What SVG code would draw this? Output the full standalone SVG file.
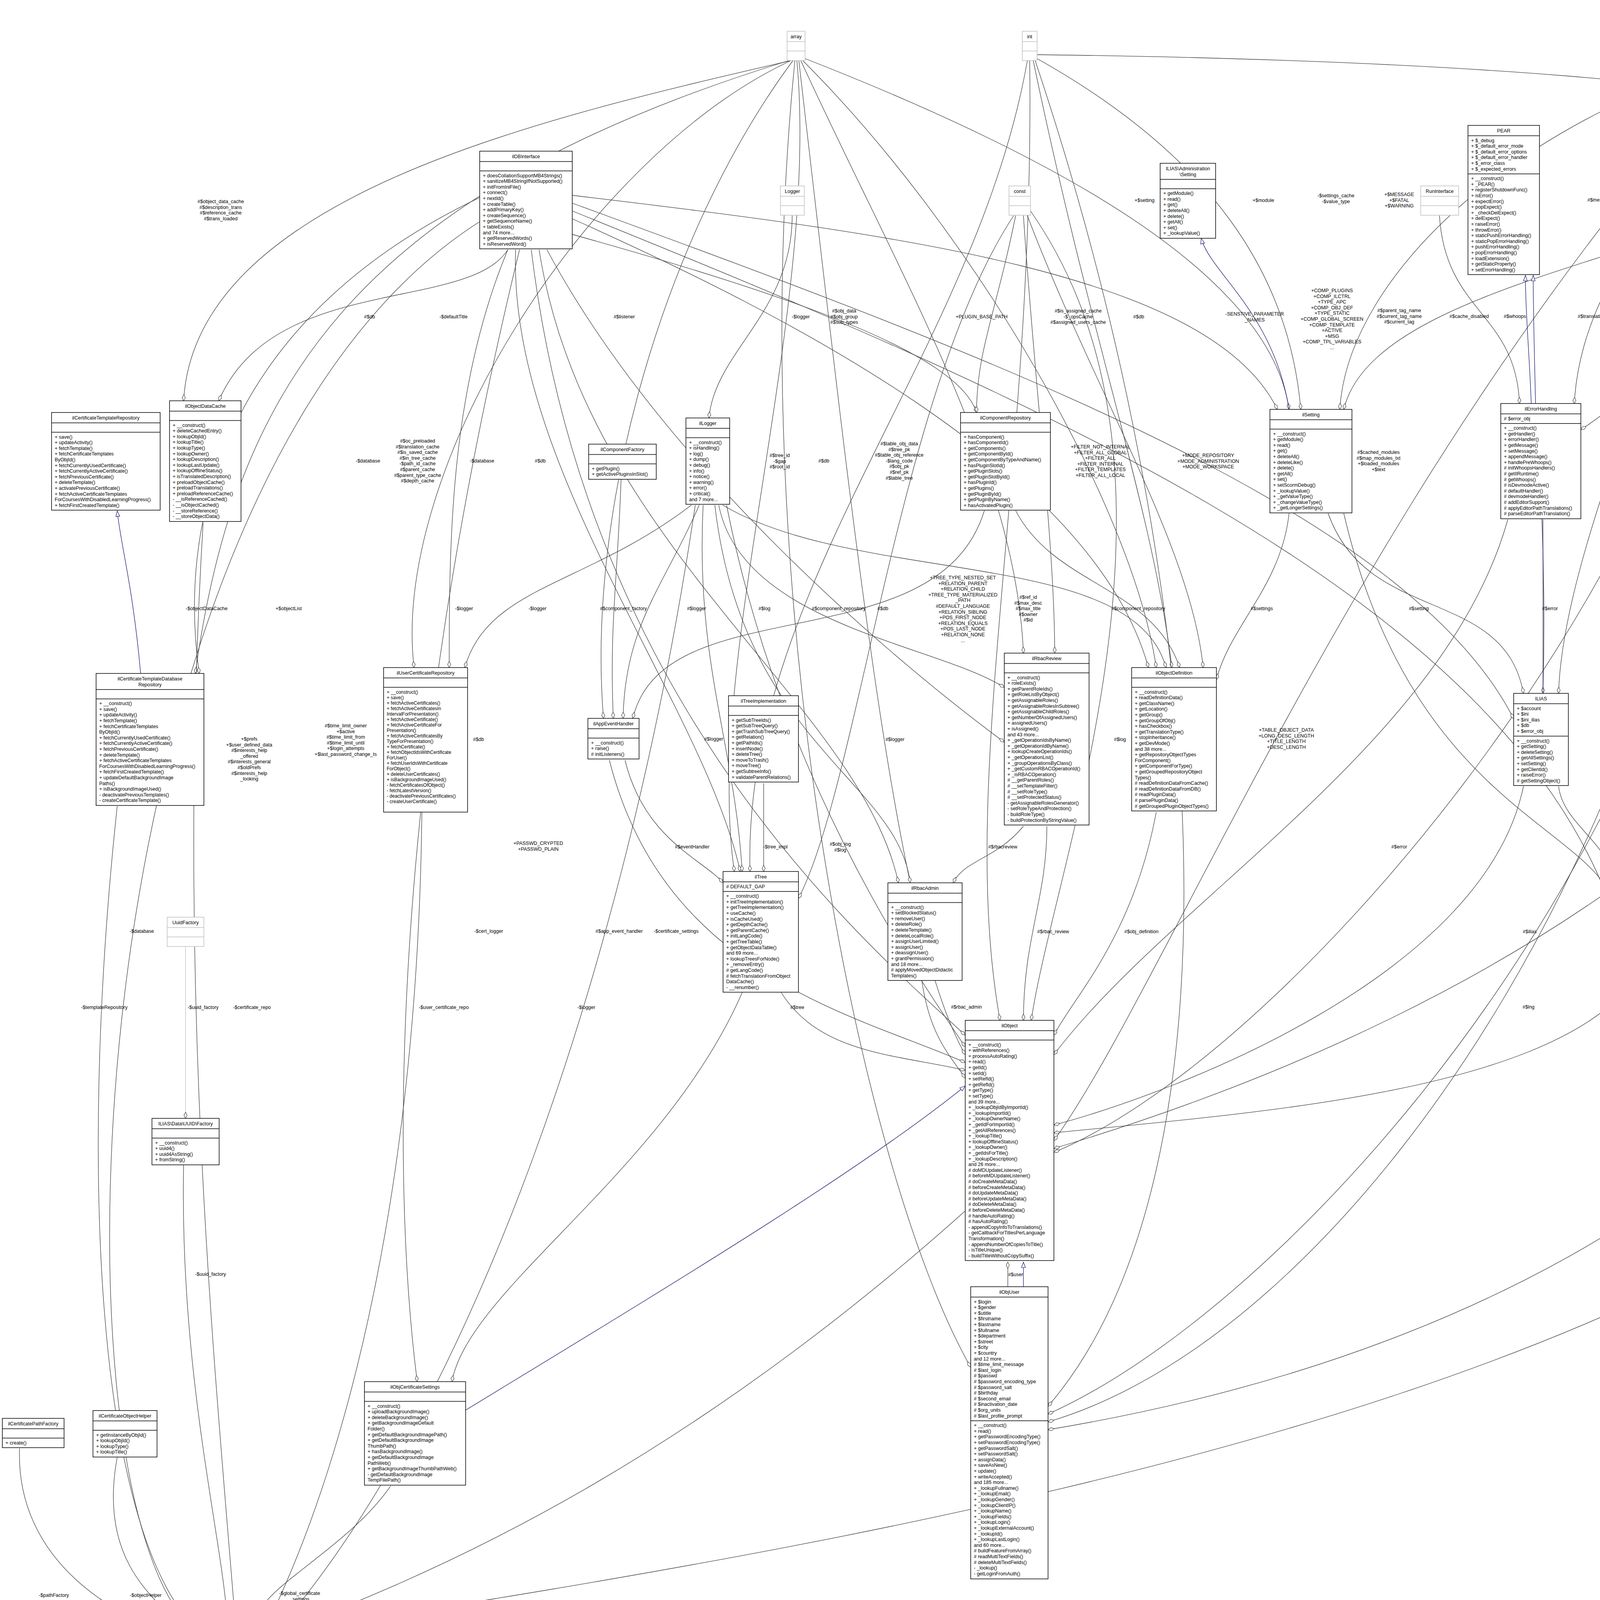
<svg xmlns="http://www.w3.org/2000/svg" width="6611" height="4251" viewBox="0 0 6611 4251">
<style>
.n rect{fill:#fff;stroke:#000;stroke-width:1.5}
.n line{stroke:#000;stroke-width:1.5}
.g rect{fill:#fff;stroke:#bfbfbf;stroke-width:1.5}
.g line{stroke:#bfbfbf;stroke-width:1.5}
.n text,.g text{font-family:"Liberation Sans",Arial,sans-serif;font-size:12.5px;fill:#000}
.t{text-anchor:middle}
.e{fill:none;stroke:#404040;stroke-width:1.3}
.eg{fill:none;stroke:#bfbfbf;stroke-width:1.3}
.i{fill:none;stroke:#191970;stroke-width:1.3}
.id{fill:none;stroke:#191970;stroke-width:1.3;stroke-dasharray:8,5}
.l{font-family:"Liberation Sans",Arial,sans-serif;font-size:12.5px;fill:#000;text-anchor:middle}
</style>
<defs>
<marker id="d" viewBox="0 0 18 10" refX="17" refY="5" markerWidth="18" markerHeight="10" orient="auto" markerUnits="userSpaceOnUse"><path d="M1,5 L9,1 L17,5 L9,9 Z" fill="#fff" stroke="#404040" stroke-width="1.2"/></marker>
<marker id="t" viewBox="0 0 16 12" refX="15" refY="6" markerWidth="16" markerHeight="12" orient="auto" markerUnits="userSpaceOnUse"><path d="M1,1 L15,6 L1,11 Z" fill="#fff" stroke="#191970" stroke-width="1.2"/></marker>
</defs>
<rect width="6611" height="4251" fill="#fff"/>
<g id="connectors">
<g marker-end="url(#d)">
<path class="e" d="M2025,155 C1400,300 500,500 470,1026"/>
<path class="e" d="M1300,639 C1200,800 700,700 560,1026"/>
<path class="e" d="M2020,155 C900,500 600,1000 500,1724"/>
<path class="e" d="M2025,155 C1500,400 1000,1200 1060,1709"/>
<path class="e" d="M2030,155 C1700,600 1500,1300 1545,1839"/>
<path class="e" d="M2040,155 C2100,800 1800,1700 1880,2231"/>
<path class="e" d="M2050,155 C2300,700 2600,1200 2620,1672"/>
<path class="e" d="M2055,155 C2500,600 2900,1300 2960,1709"/>
<path class="e" d="M2061,150 C2700,400 3250,700 3300,1048"/>
<path class="e" d="M2045,155 C2200,1500 2300,2400 2471,2700"/>
<path class="e" d="M2035,155 C1900,1500 2200,3000 2485,3500"/>
<path class="e" d="M2630,155 C2500,900 1900,1500 1920,2231"/>
<path class="e" d="M2636,155 C2650,1200 2450,2000 2560,2612"/>
<path class="e" d="M2655,140 C3500,150 4700,200 4840,366"/>
<path class="e" d="M2655,150 C3100,400 3300,700 3330,1048"/>
<path class="e" d="M2645,155 C2800,900 2950,1300 3000,1709"/>
<path class="e" d="M2650,155 C3100,1500 3200,3000 2683,3600"/>
<path class="e" d="M4455,155 C3500,1200 3000,2500 2698,2920"/>
<path class="e" d="M4460,155 C4300,500 4050,700 4030,1033"/>
<path class="e" d="M4465,155 C4300,800 4000,1400 3990,1775"/>
<path class="e" d="M4470,155 C4400,1000 4200,1800 4210,2223"/>
<path class="e" d="M4500,130 C4650,180 4850,250 4860,366"/>
<path class="e" d="M4495,150 C4700,400 4740,700 4740,916"/>
<path class="e" d="M4485,155 C4600,800 4620,1400 4620,1761"/>
<path class="e" d="M4451,150 C3900,300 3450,700 3430,1048"/>
<path class="e" d="M4475,155 C4700,1800 3400,3300 2683,3620"/>
<path class="e" d="M4480,155 C5300,900 5600,2000 5481,2150 C5000,3500 2500,3900 721,4180"/>
<path class="e" d="M5212,150 C5100,250 5000,350 4961,420"/>
<path class="e" d="M5230,155 C5150,500 5000,800 4899,930"/>
<path class="e" d="M5250,155 C5400,1200 4800,2200 4290,2380"/>
<path class="e" d="M5255,155 C5300,2000 3500,2700 2698,2940"/>
<path class="e" d="M5266,140 C5600,1000 5450,3200 2683,3660"/>
<path class="e" d="M4440,552 C4400,800 4200,1000 4047,1100"/>
<path class="e" d="M4450,552 C4500,800 4650,900 4691,980"/>
<path class="e" d="M4445,552 C4440,1200 4280,1800 4260,2223"/>
<path class="e" d="M4455,552 C4600,900 4650,1400 4650,1761"/>
<path class="e" d="M4438,552 C4300,1500 3300,2700 2698,2950"/>
<path class="e" d="M4425,552 C4000,700 3500,800 3440,1048"/>
<path class="e" d="M4443,552 C4400,2000 3500,3400 2683,3640"/>
<path class="e" d="M1320,639 C1300,1200 1800,1800 1895,2231"/>
<path class="e" d="M1400,639 C1700,1200 2300,1700 2571,1900"/>
<path class="e" d="M1465,560 C2000,800 2800,1200 2940,1709"/>
<path class="e" d="M1465,500 C2300,600 3100,700 3270,1048"/>
<path class="e" d="M1465,520 C2500,900 3600,1300 3875,1840"/>
<path class="e" d="M1380,639 C1500,1400 2200,1800 2300,2260"/>
<path class="e" d="M1465,540 C2600,1000 3800,1500 4112,2290"/>
<path class="e" d="M1240,500 C600,800 450,1300 510,1724"/>
<path class="e" d="M1300,639 C1150,1000 1150,1400 1150,1709"/>
<path class="e" d="M1360,639 C1500,1800 2200,2400 2471,2650"/>
<path class="e" d="M1240,560 C200,1200 100,3800 493,4170"/>
<path class="e" d="M1330,639 C1000,2000 1000,3000 1068,3537"/>
<path class="e" d="M1465,600 C2000,750 2450,900 2500,1056"/>
<path class="e" d="M2028,552 C2028,800 1830,900 1815,1070"/>
<path class="e" d="M1800,1293 C1780,1700 1880,1900 1900,2231"/>
<path class="e" d="M1840,1293 C1900,1600 2400,1650 2571,1760"/>
<path class="e" d="M1850,1293 C2200,1500 2900,1400 2985,1709"/>
<path class="e" d="M1790,1293 C1700,1500 1600,1600 1595,1839"/>
<path class="e" d="M1830,1293 C1900,1900 2300,2000 2330,2260"/>
<path class="e" d="M1770,1293 C1500,1500 1250,1500 1190,1709"/>
<path class="e" d="M1780,1293 C1600,2500 1200,3600 721,4160"/>
<path class="e" d="M1860,1293 C2000,2000 2350,2500 2471,2680"/>
<path class="e" d="M2600,552 C2550,800 2500,900 2500,1056"/>
<path class="e" d="M2595,552 C2300,1000 2200,2000 2044,2300"/>
<path class="e" d="M2620,552 C2650,1000 2700,1400 2700,1672"/>
<path class="e" d="M2630,552 C2800,1000 3050,1400 3080,1709"/>
<path class="e" d="M2638,540 C3100,1200 2700,2200 2640,2612"/>
<path class="e" d="M2600,1307 C2700,1500 2950,1500 3020,1709"/>
<path class="e" d="M2520,1307 C2400,1700 1700,1500 1620,1839"/>
<path class="e" d="M1590,1227 C1580,1500 1560,1600 1570,1839"/>
<path class="e" d="M3300,1314 C3280,1500 3150,1600 3114,1740"/>
<path class="e" d="M3400,1314 C3500,1600 3850,1500 3900,1775"/>
<path class="e" d="M3440,1314 C3600,2000 4000,2100 4112,2270"/>
<path class="e" d="M3685,552 C3700,800 3880,800 3890,1033"/>
<path class="e" d="M3950,1330 C3950,1500 3950,1600 3950,1775"/>
<path class="e" d="M3860,1330 C3700,1900 3000,2300 2698,2700"/>
<path class="e" d="M3990,2013 C4000,2100 4100,2150 4120,2223"/>
<path class="e" d="M3900,2013 C3800,2500 3000,2800 2698,2880"/>
<path class="e" d="M4870,661 C4860,800 4840,850 4830,916"/>
<path class="e" d="M4740,1446 C4720,1600 4680,1650 4670,1761"/>
<path class="e" d="M4640,2026 C4600,2200 4400,2250 4290,2300"/>
<path class="e" d="M4150,2548 C3900,2800 3200,2850 2698,2900"/>
<path class="e" d="M1955,2005 L1955,2231"/>
<path class="e" d="M1600,1946 C1650,2150 1800,2200 1851,2260"/>
<path class="e" d="M1560,1946 C1700,2500 2200,2600 2471,2720"/>
<path class="e" d="M2000,2541 C2100,2700 2300,2700 2471,2740"/>
<path class="e" d="M2620,2115 C2550,2200 2470,2200 2440,2260"/>
<path class="e" d="M2680,2115 C2680,2300 2620,2400 2620,2612"/>
<path class="e" d="M2360,2511 C2380,2650 2430,2700 2471,2760"/>
<path class="e" d="M2960,2079 C2900,2400 2750,2550 2698,2650"/>
<path class="e" d="M2580,3294 L2580,3231"/>
<path class="e" d="M1000,3804 C900,3950 700,4050 665,4124"/>
<path class="e" d="M50,3708 C40,4000 300,4150 493,4200"/>
<path class="e" d="M300,3731 C250,4000 400,4100 493,4185"/>
<path class="e" d="M300,2064 C200,3000 250,3900 493,4160"/>
<path class="eg" d="M475,2423 L475,2863"/>
<path class="e" d="M470,2982 C460,3500 560,3900 580,4124"/>
<path class="e" d="M1080,2078 C1070,3000 900,3700 700,4124"/>
<path class="e" d="M520,1338 C450,2500 550,3500 600,4124"/>
<path class="e" d="M5760,3709 C5600,4000 5000,4100 4400,4120 C3000,4170 1500,4180 721,4190"/>
<path class="e" d="M2471,3100 C1800,3700 1200,4000 721,4175"/>
<path class="e" d="M1900,2541 C1700,3000 1200,3300 1157,3537"/>
</g>
<g marker-end="url(#t)">
<path class="i" d="M3300,1048 C3260,800 3100,700 3075,610"/>
<path class="i" d="M3920,1033 C3915,900 3905,800 3905,705"/>
<path class="i" d="M3950,1775 C3960,1400 3935,1100 3931,1033 C3928,900 3925,800 3925,705"/>
<path class="id" d="M4945,366 C4980,300 5000,250 5012,226"/>
<path class="i" d="M2620,3294 L2620,3231"/>
<path class="i" d="M1192,3610 C1700,3300 2200,3000 2471,2780"/>
<path class="i" d="M360,1724 C340,1500 310,1400 300,1308"/>
<path class="id" d="M5700,2877 C5640,2700 5580,2550 5540,2432"/>
<path class="i" d="M5722,2877 L5722,2446"/>
<path class="i" d="M5920,2877 L5920,2476"/>
<path class="id" d="M5940,2877 C6000,2700 6080,2550 6120,2476"/>
<path class="i" d="M6318,2877 L6318,2439"/>
<path class="id" d="M6335,2877 C6400,2700 6480,2550 6518,2446"/>
<path class="id" d="M5770,3631 C5760,3400 5730,3100 5725,2966"/>
<path class="id" d="M5790,3631 C5810,3400 5890,3100 5910,2966"/>
<path class="i" d="M5810,3631 C6000,3400 6250,3100 6280,2966"/>
</g>
</g>
<g id="labels">
<text class="l" x="565" y="520"><tspan x="565" dy="0">#$object_data_cache</tspan><tspan x="565" dy="14.6">#$description_trans</tspan><tspan x="565" dy="14.6">#$reference_cache</tspan><tspan x="565" dy="14.6">#$trans_loaded</tspan></text>
<text class="l" x="946" y="815">#$db</text>
<text class="l" x="1161" y="815">-$defaultTitle</text>
<text class="l" x="1598" y="815">#$listener</text>
<text class="l" x="942" y="1184">-$database</text>
<text class="l" x="1069" y="1133"><tspan x="1069" dy="0">#$oc_preloaded</tspan><tspan x="1069" dy="14.6">#$translation_cache</tspan><tspan x="1069" dy="14.6">#$is_saved_cache</tspan><tspan x="1069" dy="14.6">#$in_tree_cache</tspan><tspan x="1069" dy="14.6">-$path_id_cache</tspan><tspan x="1069" dy="14.6">#$parent_cache</tspan><tspan x="1069" dy="14.6">#$parent_type_cache</tspan><tspan x="1069" dy="14.6">#$depth_cache</tspan></text>
<text class="l" x="1234" y="1184">-$database</text>
<text class="l" x="1383" y="1184">#$db</text>
<text class="l" x="529" y="1562">-$objectDataCache</text>
<text class="l" x="739" y="1562">+$objectList</text>
<text class="l" x="1188" y="1562">-$logger</text>
<text class="l" x="1376" y="1562">-$logger</text>
<text class="l" x="1596" y="1562">#$component_factory</text>
<text class="l" x="2050" y="815">-$logger</text>
<text class="l" x="2161" y="800"><tspan x="2161" dy="0">#$obj_data</tspan><tspan x="2161" dy="14.6">#$obj_group</tspan><tspan x="2161" dy="14.6">#$sub_types</tspan></text>
<text class="l" x="2513" y="815">+PLUGIN_BASE_PATH</text>
<text class="l" x="2760" y="800"><tspan x="2760" dy="0">#$is_assigned_cache</tspan><tspan x="2760" dy="14.6">-$_opsCache</tspan><tspan x="2760" dy="14.6">#$assigned_users_cache</tspan></text>
<text class="l" x="2915" y="815">#$db</text>
<text class="l" x="3212" y="808"><tspan x="3212" dy="0">-SENSTIVE_PARAMETER</tspan><tspan x="3212" dy="14.6">_NAMES</tspan></text>
<text class="l" x="2930" y="517">+$setting</text>
<text class="l" x="3234" y="517">+$module</text>
<text class="l" x="3420" y="505"><tspan x="3420" dy="0">-$settings_cache</tspan><tspan x="3420" dy="14.6">-$value_type</tspan></text>
<text class="l" x="3410" y="748"><tspan x="3410" dy="0">+COMP_PLUGINS</tspan><tspan x="3410" dy="14.6">+COMP_ILCTRL</tspan><tspan x="3410" dy="14.6">+TYPE_APC</tspan><tspan x="3410" dy="14.6">+COMP_OBJ_DEF</tspan><tspan x="3410" dy="14.6">+TYPE_STATIC</tspan><tspan x="3410" dy="14.6">+COMP_GLOBAL_SCREEN</tspan><tspan x="3410" dy="14.6">+COMP_TEMPLATE</tspan><tspan x="3410" dy="14.6">+ACTIVE</tspan><tspan x="3410" dy="14.6">+MSG</tspan><tspan x="3410" dy="14.6">+COMP_TPL_VARIABLES</tspan><tspan x="3410" dy="14.6">...</tspan></text>
<text class="l" x="1996" y="1170"><tspan x="1996" dy="0">#$tree_id</tspan><tspan x="1996" dy="14.6">-$gap</tspan><tspan x="1996" dy="14.6">#$root_id</tspan></text>
<text class="l" x="2109" y="1184">#$db</text>
<text class="l" x="2302" y="1140"><tspan x="2302" dy="0">#$table_obj_data</tspan><tspan x="2302" dy="14.6">#$tree_pk</tspan><tspan x="2302" dy="14.6">#$table_obj_reference</tspan><tspan x="2302" dy="14.6">-$lang_code</tspan><tspan x="2302" dy="14.6">#$obj_pk</tspan><tspan x="2302" dy="14.6">#$ref_pk</tspan><tspan x="2302" dy="14.6">#$table_tree</tspan></text>
<text class="l" x="2817" y="1148"><tspan x="2817" dy="0">+FILTER_NOT_INTERNAL</tspan><tspan x="2817" dy="14.6">+FILTER_ALL_GLOBAL</tspan><tspan x="2817" dy="14.6">+FILTER_ALL</tspan><tspan x="2817" dy="14.6">+FILTER_INTERNAL</tspan><tspan x="2817" dy="14.6">+FILTER_TEMPLATES</tspan><tspan x="2817" dy="14.6">+FILTER_ALL_LOCAL</tspan></text>
<text class="l" x="3093" y="1170"><tspan x="3093" dy="0">+MODE_REPOSITORY</tspan><tspan x="3093" dy="14.6">+MODE_ADMINISTRATION</tspan><tspan x="3093" dy="14.6">+MODE_WORKSPACE</tspan></text>
<text class="l" x="1783" y="1562">#$logger</text>
<text class="l" x="1957" y="1562">#$log</text>
<text class="l" x="2147" y="1562">#$component_repository</text>
<text class="l" x="2260" y="1562">#$db</text>
<text class="l" x="2465" y="1483"><tspan x="2465" dy="0">+TREE_TYPE_NESTED_SET</tspan><tspan x="2465" dy="14.6">+RELATION_PARENT</tspan><tspan x="2465" dy="14.6">+RELATION_CHILD</tspan><tspan x="2465" dy="14.6">+TREE_TYPE_MATERIALIZED</tspan><tspan x="2465" dy="14.6">_PATH</tspan><tspan x="2465" dy="14.6">#DEFAULT_LANGUAGE</tspan><tspan x="2465" dy="14.6">+RELATION_SIBLING</tspan><tspan x="2465" dy="14.6">+POS_FIRST_NODE</tspan><tspan x="2465" dy="14.6">+RELATION_EQUALS</tspan><tspan x="2465" dy="14.6">+POS_LAST_NODE</tspan><tspan x="2465" dy="14.6">+RELATION_NONE</tspan><tspan x="2465" dy="14.6">...</tspan></text>
<text class="l" x="2632" y="1533"><tspan x="2632" dy="0">#$ref_id</tspan><tspan x="2632" dy="14.6">#$max_desc</tspan><tspan x="2632" dy="14.6">#$max_title</tspan><tspan x="2632" dy="14.6">#$owner</tspan><tspan x="2632" dy="14.6">#$id</tspan></text>
<text class="l" x="2914" y="1562">#$component_repository</text>
<text class="l" x="3230" y="1562">#$settings</text>
<text class="l" x="3632" y="1562">#$setting</text>
<text class="l" x="3968" y="1562">#$error</text>
<text class="l" x="4219" y="1562">#$use_cache</text>
<text class="l" x="4367" y="1562">#$usage_log_enabled</text>
<text class="l" x="3582" y="502"><tspan x="3582" dy="0">+$MESSAGE</tspan><tspan x="3582" dy="14.6">+$FATAL</tspan><tspan x="3582" dy="14.6">+$WARNING</tspan></text>
<text class="l" x="4096" y="516">#$message</text>
<text class="l" x="4316" y="516">#$whoops_handlers_registered</text>
<text class="l" x="3582" y="799"><tspan x="3582" dy="0">#$parent_tag_name</tspan><tspan x="3582" dy="14.6">#$current_tag_name</tspan><tspan x="3582" dy="14.6">#$current_tag</tspan></text>
<text class="l" x="3761" y="814">#$cache_disabled</text>
<text class="l" x="3878" y="814">#$whoops</text>
<text class="l" x="4078" y="814">#$translations</text>
<text class="l" x="4167" y="806"><tspan x="4167" dy="0">+$INI_FILE</tspan><tspan x="4167" dy="14.6">+$client_id</tspan></text>
<text class="l" x="4341" y="814">#$DEBUG_ENV</text>
<text class="l" x="3529" y="1162"><tspan x="3529" dy="0">#$cached_modules</tspan><tspan x="3529" dy="14.6">#$map_modules_txt</tspan><tspan x="3529" dy="14.6">+$loaded_modules</tspan><tspan x="3529" dy="14.6">+$text</tspan></text>
<text class="l" x="4557" y="1184">#$loaded</text>
<text class="l" x="4551" y="278">#$valid_keys</text>
<text class="l" x="4777" y="270"><tspan x="4777" dy="0">#$current_time</tspan><tspan x="4777" dy="14.6">#$service_type</tspan></text>
<text class="l" x="4908" y="264"><tspan x="4908" dy="0">#$component</tspan><tspan x="4908" dy="14.6">#$valid_key_hash</tspan><tspan x="4908" dy="14.6">#$service_id</tspan></text>
<text class="l" x="5152" y="270"><tspan x="5152" dy="0">#$active</tspan><tspan x="5152" dy="14.6">#$installable</tspan></text>
<text class="l" x="4614" y="516">#$service_type</text>
<text class="l" x="4761" y="516">#$component</text>
<text class="l" x="5259" y="450"><tspan x="5259" dy="0">#$types</tspan><tspan x="5259" dy="14.6">#$unique_service</tspan><tspan x="5259" dy="14.6">_id</tspan><tspan x="5259" dy="14.6">#$active_components</tspan><tspan x="5259" dy="14.6">#$type_per_component</tspan><tspan x="5259" dy="14.6">#$available_components</tspan><tspan x="5259" dy="14.6">#$settings</tspan><tspan x="5259" dy="14.6">#$instances</tspan><tspan x="5259" dy="14.6">#$available_types</tspan><tspan x="5259" dy="14.6">#$active_cache</tspan></text>
<text class="l" x="4631" y="814">#$language_key</text>
<text class="l" x="4745" y="814">#$active</text>
<text class="l" x="4910" y="814">#$global_cache</text>
<text class="l" x="5369" y="814">#$instances</text>
<text class="l" x="5029" y="1132"><tspan x="5029" dy="0">+$lang_name</tspan><tspan x="5029" dy="14.6">+$lang_user</tspan><tspan x="5029" dy="14.6">+$lang_path</tspan><tspan x="5029" dy="14.6">#$cust_lang_path</tspan><tspan x="5029" dy="14.6">+$separator</tspan><tspan x="5029" dy="14.6">+$comment_separator</tspan><tspan x="5029" dy="14.6">+$lang_key</tspan><tspan x="5029" dy="14.6">+$lang_default</tspan></text>
<text class="l" x="5464" y="1170"><tspan x="5464" dy="0">#$lng_log</tspan><tspan x="5464" dy="14.6">#$used_modules</tspan><tspan x="5464" dy="14.6">#$used_topics</tspan></text>
<text class="l" x="4788" y="1562">#$global_cache</text>
<text class="l" x="5086" y="1511"><tspan x="5086" dy="0">#$create_date</tspan><tspan x="5086" dy="14.6">#$desc</tspan><tspan x="5086" dy="14.6">#$title</tspan><tspan x="5086" dy="14.6">#$long_desc</tspan><tspan x="5086" dy="14.6">#$import_id</tspan><tspan x="5086" dy="14.6">+$untranslatedTitle</tspan><tspan x="5086" dy="14.6">#$type</tspan><tspan x="5086" dy="14.6">...</tspan><tspan x="5086" dy="14.6">#$last_update</tspan></text>
<text class="l" x="5201" y="1822"><tspan x="5201" dy="0">#$ext_account</tspan><tspan x="5201" dy="14.6">+$email</tspan><tspan x="5201" dy="14.6">+$phone_office</tspan><tspan x="5201" dy="14.6">+$institution</tspan><tspan x="5201" dy="14.6">#$first_login</tspan><tspan x="5201" dy="14.6">+$longitude</tspan><tspan x="5201" dy="14.6">+$hobby</tspan><tspan x="5201" dy="14.6">+$zipcode</tspan><tspan x="5201" dy="14.6">#$passwd_type</tspan><tspan x="5201" dy="14.6">+$referral_comment</tspan><tspan x="5201" dy="14.6">...</tspan></text>
<text class="l" x="4470" y="1851"><tspan x="4470" dy="0">#$register</tspan><tspan x="4470" dy="14.6">#$call_by_reference</tspan><tspan x="4470" dy="14.6">#$referenced</tspan><tspan x="4470" dy="14.6">#$offline</tspan><tspan x="4470" dy="14.6">#$process_auto</tspan><tspan x="4470" dy="14.6">_reating</tspan><tspan x="4470" dy="14.6">#$add_dots</tspan></text>
<text class="l" x="5637" y="1895">#$personal_image_cache</text>
<text class="l" x="4594" y="2172">#$global_cache</text>
<text class="l" x="5011" y="2149"><tspan x="5011" dy="0">#$profile_incomplete</tspan><tspan x="5011" dy="14.6">#$passwd_policy_reset</tspan><tspan x="5011" dy="14.6">#$time_limit_unlimited</tspan><tspan x="5011" dy="14.6">-$is_self_registered</tspan></text>
<text class="l" x="5481" y="2162"><tspan x="5481" dy="0">-$webDirectory</tspan><tspan x="5481" dy="14.6">-$global_certificate_path</tspan></text>
<text class="l" x="5500" y="4086">-$fileSystem</text>
<text class="l" x="2291" y="1897">#$logger</text>
<text class="l" x="2867" y="1897">#$log</text>
<text class="l" x="3293" y="1873"><tspan x="3293" dy="0">+TABLE_OBJECT_DATA</tspan><tspan x="3293" dy="14.6">+LONG_DESC_LENGTH</tspan><tspan x="3293" dy="14.6">+TITLE_LENGTH</tspan><tspan x="3293" dy="14.6">+DESC_LENGTH</tspan></text>
<text class="l" x="2567" y="2172">#$rbacreview</text>
<text class="l" x="3582" y="2172">#$error</text>
<text class="l" x="4126" y="2172">+$ilias</text>
<text class="l" x="2696" y="2389">#$rbac_review</text>
<text class="l" x="2922" y="2389">#$obj_definition</text>
<text class="l" x="3916" y="2389">#$ilias</text>
<text class="l" x="2474" y="2582">#$rbac_admin</text>
<text class="l" x="3913" y="2582">#$lng</text>
<text class="l" x="2600" y="3267">#$user</text>
<text class="l" x="1225" y="1897">#$db</text>
<text class="l" x="638" y="1896"><tspan x="638" dy="0">+$prefs</tspan><tspan x="638" dy="14.6">+$user_defined_data</tspan><tspan x="638" dy="14.6">#$interests_help</tspan><tspan x="638" dy="14.6">_offered</tspan><tspan x="638" dy="14.6">#$interests_general</tspan><tspan x="638" dy="14.6">#$oldPrefs</tspan><tspan x="638" dy="14.6">#$interests_help</tspan><tspan x="638" dy="14.6">_looking</tspan></text>
<text class="l" x="885" y="1862"><tspan x="885" dy="0">#$time_limit_owner</tspan><tspan x="885" dy="14.6">+$active</tspan><tspan x="885" dy="14.6">#$time_limit_from</tspan><tspan x="885" dy="14.6">#$time_limit_until</tspan><tspan x="885" dy="14.6">+$login_attempts</tspan><tspan x="885" dy="14.6">+$last_password_change_ts</tspan></text>
<text class="l" x="1827" y="1896">#$logger</text>
<text class="l" x="1772" y="2172">#$eventHandler</text>
<text class="l" x="1985" y="2172">-$tree_impl</text>
<text class="l" x="2151" y="2165"><tspan x="2151" dy="0">#$obj_log</tspan><tspan x="2151" dy="14.6">#$log</tspan></text>
<text class="l" x="1378" y="2163"><tspan x="1378" dy="0">+PASSWD_CRYPTED</tspan><tspan x="1378" dy="14.6">+PASSWD_PLAIN</tspan></text>
<text class="l" x="363" y="2388">-$database</text>
<text class="l" x="1251" y="2388">-$cert_logger</text>
<text class="l" x="1585" y="2388">#$app_event_handler</text>
<text class="l" x="1731" y="2388">-$certificate_settings</text>
<text class="l" x="267" y="2583">-$templateRepository</text>
<text class="l" x="520" y="2583">-$uuid_factory</text>
<text class="l" x="645" y="2583">-$certificate_repo</text>
<text class="l" x="1136" y="2583">-$user_certificate_repo</text>
<text class="l" x="1501" y="2583">-$logger</text>
<text class="l" x="2041" y="2583">#$tree</text>
<text class="l" x="539" y="3266">-$uuid_factory</text>
<text class="l" x="767" y="4083"><tspan x="767" dy="0">-$global_certificate</tspan><tspan x="767" dy="14.6">_settings</tspan></text>
<text class="l" x="138" y="4088">-$pathFactory</text>
<text class="l" x="373" y="4088">-$objectHelper</text>
</g>
<g id="array" class="g"><rect x="2015" y="80" width="46" height="75"/><line x1="2015" y1="106.6" x2="2061" y2="106.6"/><line x1="2015" y1="130.6" x2="2061" y2="130.6"/><text class="t" x="2038" y="98" fill="#000">array</text></g>
<g id="int" class="g"><rect x="2617" y="80" width="38" height="75"/><line x1="2617" y1="106.6" x2="2655" y2="106.6"/><line x1="2617" y1="130.6" x2="2655" y2="130.6"/><text class="t" x="2636" y="98">int</text></g>
<g id="string" class="g"><rect x="4451" y="80" width="50" height="75"/><line x1="4451" y1="106.6" x2="4501" y2="106.6"/><line x1="4451" y1="130.6" x2="4501" y2="130.6"/><text class="t" x="4476" y="98">string</text></g>
<g id="static" class="g"><rect x="5212" y="80" width="54" height="75"/><line x1="5212" y1="106.6" x2="5266" y2="106.6"/><line x1="5212" y1="130.6" x2="5266" y2="130.6"/><text class="t" x="5239" y="98">static</text></g>
<g id="Logger" class="g"><rect x="1998" y="476" width="61" height="75"/><line x1="1998" y1="502.6" x2="2059" y2="502.6"/><line x1="1998" y1="526.6" x2="2059" y2="526.6"/><text class="t" x="2028.5" y="494">Logger</text></g>
<g id="const" class="g"><rect x="2583" y="476" width="55" height="75"/><line x1="2583" y1="502.6" x2="2638" y2="502.6"/><line x1="2583" y1="526.6" x2="2638" y2="526.6"/><text class="t" x="2610.5" y="494">const</text></g>
<g id="RunInterface" class="g"><rect x="3637" y="476" width="97" height="75"/><line x1="3637" y1="502.6" x2="3734" y2="502.6"/><line x1="3637" y1="526.6" x2="3734" y2="526.6"/><text class="t" x="3685.5" y="494">RunInterface</text></g>
<g id="bool" class="g"><rect x="4420" y="476" width="46" height="75"/><line x1="4420" y1="502.6" x2="4466" y2="502.6"/><line x1="4420" y1="526.6" x2="4466" y2="526.6"/><text class="t" x="4443" y="494">bool</text></g>
<g id="UuidFactory" class="g"><rect x="428" y="2348" width="94" height="75"/><line x1="428" y1="2374.6" x2="522" y2="2374.6"/><line x1="428" y1="2398.6" x2="522" y2="2398.6"/><text class="t" x="475" y="2366">UuidFactory</text></g>
<g id="ilCertificateCloneAction" class="n"><rect x="493" y="4124" width="228" height="119" style="fill:#bfbfbf"/><line x1="493" y1="4150.6" x2="721" y2="4150.6"/><line x1="493" y1="4174.6" x2="721" y2="4174.6"/><text class="t" x="607" y="4142">ilCertificateCloneAction</text><text x="501" y="4190.6"><tspan x="501" dy="0">+ __construct()</tspan><tspan x="501" dy="14.6">- isActive()</tspan><tspan x="501" dy="14.6">- getBackgroundImageName()</tspan><tspan x="501" dy="14.6">- getBackgroundImageThumbPath()</tspan></text></g>
<g id="ilObjCertificateSettings" class="n"><rect x="933" y="3537" width="259" height="265"/><line x1="933" y1="3563.6" x2="1192" y2="3563.6"/><line x1="933" y1="3587.6" x2="1192" y2="3587.6"/><text class="t" x="1062.5" y="3555">ilObjCertificateSettings</text><text x="941" y="3603.6"><tspan x="941" dy="0">+ __construct()</tspan><tspan x="941" dy="14.6">+ uploadBackgroundImage()</tspan><tspan x="941" dy="14.6">+ deleteBackgroundImage()</tspan><tspan x="941" dy="14.6">+ getBackgroundImageDefault</tspan><tspan x="941" dy="14.6">Folder()</tspan><tspan x="941" dy="14.6">+ getDefaultBackgroundImagePath()</tspan><tspan x="941" dy="14.6">+ getDefaultBackgroundImage</tspan><tspan x="941" dy="14.6">ThumbPath()</tspan><tspan x="941" dy="14.6">+ hasBackgroundImage()</tspan><tspan x="941" dy="14.6">+ getDefaultBackgroundImage</tspan><tspan x="941" dy="14.6">PathWeb()</tspan><tspan x="941" dy="14.6">+ getBackgroundImageThumbPathWeb()</tspan><tspan x="941" dy="14.6">- getDefaultBackgroundImage</tspan><tspan x="941" dy="14.6">TempFilePath()</tspan></text></g>
<g id="ilCertificatePathFactory" class="n"><rect x="6" y="3631" width="158" height="75"/><line x1="6" y1="3657.6" x2="164" y2="3657.6"/><line x1="6" y1="3681.6" x2="164" y2="3681.6"/><text class="t" x="85" y="3649">ilCertificatePathFactory</text><text x="14" y="3697.6">+ create()</text></g>
<g id="ilCertificateObjectHelper" class="n"><rect x="238" y="3611" width="164" height="119"/><line x1="238" y1="3637.6" x2="402" y2="3637.6"/><line x1="238" y1="3661.6" x2="402" y2="3661.6"/><text class="t" x="320" y="3629">ilCertificateObjectHelper</text><text x="246" y="3677.6"><tspan x="246" dy="0">+ getInstanceByObjId()</tspan><tspan x="246" dy="14.6">+ lookupObjId()</tspan><tspan x="246" dy="14.6">+ lookupType()</tspan><tspan x="246" dy="14.6">+ lookupTitle()</tspan></text></g>
<g id="UUIDFactory" class="n"><rect x="389" y="2863" width="172" height="119"/><line x1="389" y1="2889.6" x2="561" y2="2889.6"/><line x1="389" y1="2913.6" x2="561" y2="2913.6"/><text class="t" x="475" y="2881">ILIAS\Data\UUID\Factory</text><text x="397" y="2929.6"><tspan x="397" dy="0">+ __construct()</tspan><tspan x="397" dy="14.6">+ uuid4()</tspan><tspan x="397" dy="14.6">+ uuid4AsString()</tspan><tspan x="397" dy="14.6">+ fromString()</tspan></text></g>
<g id="ilCertificateTemplateDatabaseRepository" class="n"><rect x="246" y="1724" width="276" height="338"/><line x1="246" y1="1765.2" x2="522" y2="1765.2"/><line x1="246" y1="1789.2" x2="522" y2="1789.2"/><text class="t" x="384" y="1742"><tspan x="384" dy="0">ilCertificateTemplateDatabase</tspan><tspan x="384" dy="14.6">Repository</tspan></text><text x="254" y="1805.2"><tspan x="254" dy="0">+ __construct()</tspan><tspan x="254" dy="14.6">+ save()</tspan><tspan x="254" dy="14.6">+ updateActivity()</tspan><tspan x="254" dy="14.6">+ fetchTemplate()</tspan><tspan x="254" dy="14.6">+ fetchCertificateTemplates</tspan><tspan x="254" dy="14.6">ByObjId()</tspan><tspan x="254" dy="14.6">+ fetchCurrentlyUsedCertificate()</tspan><tspan x="254" dy="14.6">+ fetchCurrentlyActiveCertificate()</tspan><tspan x="254" dy="14.6">+ fetchPreviousCertificate()</tspan><tspan x="254" dy="14.6">+ deleteTemplate()</tspan><tspan x="254" dy="14.6">+ fetchActiveCertificateTemplates</tspan><tspan x="254" dy="14.6">ForCoursesWithDisabledLearningProgress()</tspan><tspan x="254" dy="14.6">+ fetchFirstCreatedTemplate()</tspan><tspan x="254" dy="14.6">+ updateDefaultBackgroundImage</tspan><tspan x="254" dy="14.6">Paths()</tspan><tspan x="254" dy="14.6">+ isBackgroundImageUsed()</tspan><tspan x="254" dy="14.6">- deactivatePreviousTemplates()</tspan><tspan x="254" dy="14.6">- createCertificateTemplate()</tspan></text></g>
<g id="ilCertificateTemplateRepository" class="n"><rect x="132" y="1056" width="278" height="250"/><line x1="132" y1="1082.6" x2="410" y2="1082.6"/><line x1="132" y1="1106.6" x2="410" y2="1106.6"/><text class="t" x="271" y="1074">ilCertificateTemplateRepository</text><text x="140" y="1122.6"><tspan x="140" dy="0">+ save()</tspan><tspan x="140" dy="14.6">+ updateActivity()</tspan><tspan x="140" dy="14.6">+ fetchTemplate()</tspan><tspan x="140" dy="14.6">+ fetchCertificateTemplates</tspan><tspan x="140" dy="14.6">ByObjId()</tspan><tspan x="140" dy="14.6">+ fetchCurrentlyUsedCertificate()</tspan><tspan x="140" dy="14.6">+ fetchCurrentlyActiveCertificate()</tspan><tspan x="140" dy="14.6">+ fetchPreviousCertificate()</tspan><tspan x="140" dy="14.6">+ deleteTemplate()</tspan><tspan x="140" dy="14.6">+ activatePreviousCertificate()</tspan><tspan x="140" dy="14.6">+ fetchActiveCertificateTemplates</tspan><tspan x="140" dy="14.6">ForCoursesWithDisabledLearningProgress()</tspan><tspan x="140" dy="14.6">+ fetchFirstCreatedTemplate()</tspan></text></g>
<g id="ilObjectDataCache" class="n"><rect x="434" y="1026" width="183" height="309"/><line x1="434" y1="1052.6" x2="617" y2="1052.6"/><line x1="434" y1="1076.6" x2="617" y2="1076.6"/><text class="t" x="525.5" y="1044">ilObjectDataCache</text><text x="442" y="1092.6"><tspan x="442" dy="0">+ __construct()</tspan><tspan x="442" dy="14.6">+ deleteCachedEntry()</tspan><tspan x="442" dy="14.6">+ lookupObjId()</tspan><tspan x="442" dy="14.6">+ lookupTitle()</tspan><tspan x="442" dy="14.6">+ lookupType()</tspan><tspan x="442" dy="14.6">+ lookupOwner()</tspan><tspan x="442" dy="14.6">+ lookupDescription()</tspan><tspan x="442" dy="14.6">+ lookupLastUpdate()</tspan><tspan x="442" dy="14.6">+ lookupOfflineStatus()</tspan><tspan x="442" dy="14.6">+ isTranslatedDescription()</tspan><tspan x="442" dy="14.6">+ preloadObjectCache()</tspan><tspan x="442" dy="14.6">+ preloadTranslations()</tspan><tspan x="442" dy="14.6">+ preloadReferenceCache()</tspan><tspan x="442" dy="14.6">- __isReferenceCached()</tspan><tspan x="442" dy="14.6">- __isObjectCached()</tspan><tspan x="442" dy="14.6">- __storeReference()</tspan><tspan x="442" dy="14.6">- __storeObjectData()</tspan></text></g>
<g id="ilDBInterface" class="n"><rect x="1228" y="387" width="237" height="250"/><line x1="1228" y1="413.6" x2="1465" y2="413.6"/><line x1="1228" y1="437.6" x2="1465" y2="437.6"/><text class="t" x="1346.5" y="405">ilDBInterface</text><text x="1236" y="453.6"><tspan x="1236" dy="0">+ doesCollationSupportMB4Strings()</tspan><tspan x="1236" dy="14.6">+ sanitizeMB4StringIfNotSupported()</tspan><tspan x="1236" dy="14.6">+ initFromIniFile()</tspan><tspan x="1236" dy="14.6">+ connect()</tspan><tspan x="1236" dy="14.6">+ nextId()</tspan><tspan x="1236" dy="14.6">+ createTable()</tspan><tspan x="1236" dy="14.6">+ addPrimaryKey()</tspan><tspan x="1236" dy="14.6">+ createSequence()</tspan><tspan x="1236" dy="14.6">+ getSequenceName()</tspan><tspan x="1236" dy="14.6">+ tableExists()</tspan><tspan x="1236" dy="14.6">and 74 more...</tspan><tspan x="1236" dy="14.6">+ getReservedWords()</tspan><tspan x="1236" dy="14.6">+ isReservedWord()</tspan></text></g>
<g id="ilComponentFactory" class="n"><rect x="1507" y="1137" width="173" height="90"/><line x1="1507" y1="1163.6" x2="1680" y2="1163.6"/><line x1="1507" y1="1187.6" x2="1680" y2="1187.6"/><text class="t" x="1593.5" y="1155">ilComponentFactory</text><text x="1515" y="1203.6"><tspan x="1515" dy="0">+ getPlugin()</tspan><tspan x="1515" dy="14.6">+ getActivePluginsInSlot()</tspan></text></g>
<g id="AdministrationSetting" class="n"><rect x="2970" y="418" width="142" height="192"/><line x1="2970" y1="459.2" x2="3112" y2="459.2"/><line x1="2970" y1="483.2" x2="3112" y2="483.2"/><text class="t" x="3041" y="436"><tspan x="3041" dy="0">ILIAS\Administration</tspan><tspan x="3041" dy="14.6">\Setting</tspan></text><text x="2978" y="499.2"><tspan x="2978" dy="0">+ getModule()</tspan><tspan x="2978" dy="14.6">+ read()</tspan><tspan x="2978" dy="14.6">+ get()</tspan><tspan x="2978" dy="14.6">+ deleteAll()</tspan><tspan x="2978" dy="14.6">+ delete()</tspan><tspan x="2978" dy="14.6">+ getAll()</tspan><tspan x="2978" dy="14.6">+ set()</tspan><tspan x="2978" dy="14.6">+ _lookupValue()</tspan></text></g>
<g id="ilLogger" class="n"><rect x="1756" y="1070" width="112" height="221"/><line x1="1756" y1="1096.6" x2="1868" y2="1096.6"/><line x1="1756" y1="1120.6" x2="1868" y2="1120.6"/><text class="t" x="1812" y="1088">ilLogger</text><text x="1764" y="1136.6"><tspan x="1764" dy="0">+ __construct()</tspan><tspan x="1764" dy="14.6">+ isHandling()</tspan><tspan x="1764" dy="14.6">+ log()</tspan><tspan x="1764" dy="14.6">+ dump()</tspan><tspan x="1764" dy="14.6">+ debug()</tspan><tspan x="1764" dy="14.6">+ info()</tspan><tspan x="1764" dy="14.6">+ notice()</tspan><tspan x="1764" dy="14.6">+ warning()</tspan><tspan x="1764" dy="14.6">+ error()</tspan><tspan x="1764" dy="14.6">+ critical()</tspan><tspan x="1764" dy="14.6">and 7 more...</tspan></text></g>
<g id="ilComponentRepository" class="n"><rect x="2459" y="1056" width="230" height="250"/><line x1="2459" y1="1082.6" x2="2689" y2="1082.6"/><line x1="2459" y1="1106.6" x2="2689" y2="1106.6"/><text class="t" x="2574" y="1074">ilComponentRepository</text><text x="2467" y="1122.6"><tspan x="2467" dy="0">+ hasComponent()</tspan><tspan x="2467" dy="14.6">+ hasComponentId()</tspan><tspan x="2467" dy="14.6">+ getComponents()</tspan><tspan x="2467" dy="14.6">+ getComponentById()</tspan><tspan x="2467" dy="14.6">+ getComponentByTypeAndName()</tspan><tspan x="2467" dy="14.6">+ hasPluginSlotId()</tspan><tspan x="2467" dy="14.6">+ getPluginSlots()</tspan><tspan x="2467" dy="14.6">+ getPluginSlotById()</tspan><tspan x="2467" dy="14.6">+ hasPluginId()</tspan><tspan x="2467" dy="14.6">+ getPlugins()</tspan><tspan x="2467" dy="14.6">+ getPluginById()</tspan><tspan x="2467" dy="14.6">+ getPluginByName()</tspan><tspan x="2467" dy="14.6">+ hasActivatedPlugin()</tspan></text></g>
<g id="ilSetting" class="n"><rect x="3251" y="1048" width="210" height="265"/><line x1="3251" y1="1074.6" x2="3461" y2="1074.6"/><line x1="3251" y1="1098.6" x2="3461" y2="1098.6"/><text class="t" x="3356" y="1066">ilSetting</text><text x="3259" y="1114.6"><tspan x="3259" dy="0">+ __construct()</tspan><tspan x="3259" dy="14.6">+ getModule()</tspan><tspan x="3259" dy="14.6">+ read()</tspan><tspan x="3259" dy="14.6">+ get()</tspan><tspan x="3259" dy="14.6">+ deleteAll()</tspan><tspan x="3259" dy="14.6">+ deleteLike()</tspan><tspan x="3259" dy="14.6">+ delete()</tspan><tspan x="3259" dy="14.6">+ getAll()</tspan><tspan x="3259" dy="14.6">+ set()</tspan><tspan x="3259" dy="14.6">+ setScormDebug()</tspan><tspan x="3259" dy="14.6">+ _lookupValue()</tspan><tspan x="3259" dy="14.6">+ _getValueType()</tspan><tspan x="3259" dy="14.6">+ _changeValueType()</tspan><tspan x="3259" dy="14.6">+ _getLongerSettings()</tspan></text></g>
<g id="PEAR" class="n"><rect x="3758" y="321" width="183" height="382"/><line x1="3758" y1="347.6" x2="3941" y2="347.6"/><line x1="3758" y1="445.2" x2="3941" y2="445.2"/><text class="t" x="3849.5" y="339">PEAR</text><text x="3766" y="363.6"><tspan x="3766" dy="0">+ $_debug</tspan><tspan x="3766" dy="14.6">+ $_default_error_mode</tspan><tspan x="3766" dy="14.6">+ $_default_error_options</tspan><tspan x="3766" dy="14.6">+ $_default_error_handler</tspan><tspan x="3766" dy="14.6">+ $_error_class</tspan><tspan x="3766" dy="14.6">+ $_expected_errors</tspan></text><text x="3766" y="461.2"><tspan x="3766" dy="0">+ __construct()</tspan><tspan x="3766" dy="14.6">+ _PEAR()</tspan><tspan x="3766" dy="14.6">+ registerShutdownFunc()</tspan><tspan x="3766" dy="14.6">+ isError()</tspan><tspan x="3766" dy="14.6">+ expectError()</tspan><tspan x="3766" dy="14.6">+ popExpect()</tspan><tspan x="3766" dy="14.6">+ _checkDelExpect()</tspan><tspan x="3766" dy="14.6">+ delExpect()</tspan><tspan x="3766" dy="14.6">+ raiseError()</tspan><tspan x="3766" dy="14.6">+ throwError()</tspan><tspan x="3766" dy="14.6">+ staticPushErrorHandling()</tspan><tspan x="3766" dy="14.6">+ staticPopErrorHandling()</tspan><tspan x="3766" dy="14.6">+ pushErrorHandling()</tspan><tspan x="3766" dy="14.6">+ popErrorHandling()</tspan><tspan x="3766" dy="14.6">+ loadExtension()</tspan><tspan x="3766" dy="14.6">+ getStaticProperty()</tspan><tspan x="3766" dy="14.6">+ setErrorHandling()</tspan></text></g>
<g id="ilErrorHandling" class="n"><rect x="3842" y="1033" width="205" height="295"/><line x1="3842" y1="1059.6" x2="4047" y2="1059.6"/><line x1="3842" y1="1084.2" x2="4047" y2="1084.2"/><text class="t" x="3944.5" y="1051">ilErrorHandling</text><text x="3850" y="1075.6"># $error_obj</text><text x="3850" y="1100.2"><tspan x="3850" dy="0">+ __construct()</tspan><tspan x="3850" dy="14.6">+ getHandler()</tspan><tspan x="3850" dy="14.6">+ errorHandler()</tspan><tspan x="3850" dy="14.6">+ getMessage()</tspan><tspan x="3850" dy="14.6">+ setMessage()</tspan><tspan x="3850" dy="14.6">+ appendMessage()</tspan><tspan x="3850" dy="14.6">+ handlePreWhoops()</tspan><tspan x="3850" dy="14.6"># initWhoopsHandlers()</tspan><tspan x="3850" dy="14.6"># getIlRuntime()</tspan><tspan x="3850" dy="14.6"># getWhoops()</tspan><tspan x="3850" dy="14.6"># isDevmodeActive()</tspan><tspan x="3850" dy="14.6"># defaultHandler()</tspan><tspan x="3850" dy="14.6"># devmodeHandler()</tspan><tspan x="3850" dy="14.6"># addEditorSupport()</tspan><tspan x="3850" dy="14.6"># applyEditorPathTranslations()</tspan><tspan x="3850" dy="14.6"># parseEditorPathTranslation()</tspan></text></g>
<g id="ilGlobalCacheServiceInterface" class="n"><rect x="4915" y="5" width="198" height="221"/><line x1="4915" y1="31.6" x2="5113" y2="31.6"/><line x1="4915" y1="55.6" x2="5113" y2="55.6"/><text class="t" x="5014" y="23">ilGlobalCacheServiceInterface</text><text x="4923" y="71.6"><tspan x="4923" dy="0">+ unserialize()</tspan><tspan x="4923" dy="14.6">+ get()</tspan><tspan x="4923" dy="14.6">+ set()</tspan><tspan x="4923" dy="14.6">+ getServiceId()</tspan><tspan x="4923" dy="14.6">+ setServiceId()</tspan><tspan x="4923" dy="14.6">+ getComponent()</tspan><tspan x="4923" dy="14.6">+ setComponent()</tspan><tspan x="4923" dy="14.6">+ isActive()</tspan><tspan x="4923" dy="14.6">+ isInstallable()</tspan><tspan x="4923" dy="14.6">+ returnKey()</tspan><tspan x="4923" dy="14.6">and 9 more...</tspan></text></g>
<g id="ilGlobalCacheService" class="n"><rect x="4813" y="366" width="148" height="294"/><line x1="4813" y1="392.6" x2="4961" y2="392.6"/><line x1="4813" y1="416.6" x2="4961" y2="416.6"/><text class="t" x="4887" y="384">ilGlobalCacheService</text><text x="4821" y="432.6"><tspan x="4821" dy="0">+ __construct()</tspan><tspan x="4821" dy="14.6">+ unserialize()</tspan><tspan x="4821" dy="14.6">+ get()</tspan><tspan x="4821" dy="14.6">+ set()</tspan><tspan x="4821" dy="14.6">+ serialize()</tspan><tspan x="4821" dy="14.6">+ getServiceId()</tspan><tspan x="4821" dy="14.6">+ setServiceId()</tspan><tspan x="4821" dy="14.6">+ getComponent()</tspan><tspan x="4821" dy="14.6">+ setComponent()</tspan><tspan x="4821" dy="14.6">+ isActive()</tspan><tspan x="4821" dy="14.6">and 11 more...</tspan><tspan x="4821" dy="14.6"># getActive()</tspan><tspan x="4821" dy="14.6"># getInstallable()</tspan><tspan x="4821" dy="14.6"># getMemoryLimit()</tspan><tspan x="4821" dy="14.6"># getMinMemory()</tspan><tspan x="4821" dy="14.6"># checkMemory()</tspan></text></g>
<g id="ilGlobalCache" class="n"><rect x="4691" y="916" width="208" height="528"/><line x1="4691" y1="942.6" x2="4899" y2="942.6"/><line x1="4691" y1="1040.2" x2="4899" y2="1040.2"/><text class="t" x="4795" y="934">ilGlobalCache</text><text x="4699" y="958.6"><tspan x="4699" dy="0">+ TYPE_MEMCACHED</tspan><tspan x="4699" dy="14.6">+ TYPE_FALLBACK</tspan><tspan x="4699" dy="14.6">+ COMP_CLNG</tspan><tspan x="4699" dy="14.6">+ COMP_RBAC_UA</tspan><tspan x="4699" dy="14.6">+ COMP_EVENTS</tspan><tspan x="4699" dy="14.6">+ COMP_TPL_BLOCKS</tspan></text><text x="4699" y="1056.2"><tspan x="4699" dy="0">+ isActive()</tspan><tspan x="4699" dy="14.6">+ isValid()</tspan><tspan x="4699" dy="14.6">+ isInstallable()</tspan><tspan x="4699" dy="14.6">+ isCacheServiceInstallable()</tspan><tspan x="4699" dy="14.6">+ getInstallationFailureReason()</tspan><tspan x="4699" dy="14.6">+ exists()</tspan><tspan x="4699" dy="14.6">+ set()</tspan><tspan x="4699" dy="14.6">+ get()</tspan><tspan x="4699" dy="14.6">+ delete()</tspan><tspan x="4699" dy="14.6">+ flush()</tspan><tspan x="4699" dy="14.6">and 7 more...</tspan><tspan x="4699" dy="14.6">+ setup()</tspan><tspan x="4699" dy="14.6">+ getInstance()</tspan><tspan x="4699" dy="14.6">+ log()</tspan><tspan x="4699" dy="14.6">+ getAllInstallableTypes()</tspan><tspan x="4699" dy="14.6">+ getAllTypes()</tspan><tspan x="4699" dy="14.6">+ lookupServiceClassName()</tspan><tspan x="4699" dy="14.6">+ lookupServiceConfigName()</tspan><tspan x="4699" dy="14.6">+ getSettings()</tspan><tspan x="4699" dy="14.6">+ setSettings()</tspan><tspan x="4699" dy="14.6">+ getActiveComponents()</tspan><tspan x="4699" dy="14.6">+ setActiveComponents()</tspan><tspan x="4699" dy="14.6">+ getAvailableComponents()</tspan><tspan x="4699" dy="14.6">+ setAvailableComponents()</tspan><tspan x="4699" dy="14.6"># __construct()</tspan><tspan x="4699" dy="14.6"># checkSettings()</tspan><tspan x="4699" dy="14.6"># generateServiceId()</tspan></text></g>
<g id="ilUserCertificateRepository" class="n"><rect x="982" y="1709" width="215" height="370"/><line x1="982" y1="1735.6" x2="1197" y2="1735.6"/><line x1="982" y1="1759.6" x2="1197" y2="1759.6"/><text class="t" x="1089.5" y="1727">ilUserCertificateRepository</text><text x="990" y="1775.6" style="font-size:12px"><tspan x="990" dy="0">+ __construct()</tspan><tspan x="990" dy="14">+ save()</tspan><tspan x="990" dy="14">+ fetchActiveCertificates()</tspan><tspan x="990" dy="14">+ fetchActiveCertificatesIn</tspan><tspan x="990" dy="14">IntervalForPresentation()</tspan><tspan x="990" dy="14">+ fetchActiveCertificate()</tspan><tspan x="990" dy="14">+ fetchActiveCertificateFor</tspan><tspan x="990" dy="14">Presentation()</tspan><tspan x="990" dy="14">+ fetchActiveCertificatesBy</tspan><tspan x="990" dy="14">TypeForPresentation()</tspan><tspan x="990" dy="14">+ fetchCertificate()</tspan><tspan x="990" dy="14">+ fetchObjectIdsWithCertificate</tspan><tspan x="990" dy="14">ForUser()</tspan><tspan x="990" dy="14">+ fetchUserIdsWithCertificate</tspan><tspan x="990" dy="14">ForObject()</tspan><tspan x="990" dy="14">+ deleteUserCertificates()</tspan><tspan x="990" dy="14">+ isBackgroundImageUsed()</tspan><tspan x="990" dy="14">- fetchCertificatesOfObject()</tspan><tspan x="990" dy="14">- fetchLatestVersion()</tspan><tspan x="990" dy="14">- deactivatePreviousCertificates()</tspan><tspan x="990" dy="14">- createUserCertificate()</tspan></text></g>
<g id="ilAppEventHandler" class="n"><rect x="1505" y="1839" width="131" height="104"/><line x1="1505" y1="1865.6" x2="1636" y2="1865.6"/><line x1="1505" y1="1889.6" x2="1636" y2="1889.6"/><text class="t" x="1570.5" y="1857">ilAppEventHandler</text><text x="1513" y="1905.6"><tspan x="1513" dy="0">+ __construct()</tspan><tspan x="1513" dy="14.6">+ raise()</tspan><tspan x="1513" dy="14.6"># initListeners()</tspan></text></g>
<g id="ilTreeImplementation" class="n"><rect x="1865" y="1781" width="179" height="221"/><line x1="1865" y1="1807.6" x2="2044" y2="1807.6"/><line x1="1865" y1="1831.6" x2="2044" y2="1831.6"/><text class="t" x="1954.5" y="1799">ilTreeImplementation</text><text x="1873" y="1847.6"><tspan x="1873" dy="0">+ getSubTreeIds()</tspan><tspan x="1873" dy="14.6">+ getSubTreeQuery()</tspan><tspan x="1873" dy="14.6">+ getTrashSubTreeQuery()</tspan><tspan x="1873" dy="14.6">+ getRelation()</tspan><tspan x="1873" dy="14.6">+ getPathIds()</tspan><tspan x="1873" dy="14.6">+ insertNode()</tspan><tspan x="1873" dy="14.6">+ deleteTree()</tspan><tspan x="1873" dy="14.6">+ moveToTrash()</tspan><tspan x="1873" dy="14.6">+ moveTree()</tspan><tspan x="1873" dy="14.6">+ getSubtreeInfo()</tspan><tspan x="1873" dy="14.6">+ validateParentRelations()</tspan></text></g>
<g id="ilTree" class="n"><rect x="1851" y="2231" width="193" height="309"/><line x1="1851" y1="2257.6" x2="2044" y2="2257.6"/><line x1="1851" y1="2282.2" x2="2044" y2="2282.2"/><text class="t" x="1947.5" y="2249">ilTree</text><text x="1859" y="2273.6"># DEFAULT_GAP</text><text x="1859" y="2298.2"><tspan x="1859" dy="0">+ __construct()</tspan><tspan x="1859" dy="14.6">+ initTreeImplementation()</tspan><tspan x="1859" dy="14.6">+ getTreeImplementation()</tspan><tspan x="1859" dy="14.6">+ useCache()</tspan><tspan x="1859" dy="14.6">+ isCacheUsed()</tspan><tspan x="1859" dy="14.6">+ getDepthCache()</tspan><tspan x="1859" dy="14.6">+ getParentCache()</tspan><tspan x="1859" dy="14.6">+ initLangCode()</tspan><tspan x="1859" dy="14.6">+ getTreeTable()</tspan><tspan x="1859" dy="14.6">+ getObjectDataTable()</tspan><tspan x="1859" dy="14.6">and 69 more...</tspan><tspan x="1859" dy="14.6">+ lookupTreesForNode()</tspan><tspan x="1859" dy="14.6">+ _removeEntry()</tspan><tspan x="1859" dy="14.6"># getLangCode()</tspan><tspan x="1859" dy="14.6"># fetchTranslationFromObject</tspan><tspan x="1859" dy="14.6">DataCache()</tspan><tspan x="1859" dy="14.6">- __renumber()</tspan></text></g>
<g id="ilRbacReview" class="n"><rect x="2571" y="1672" width="217" height="440"/><line x1="2571" y1="1698.6" x2="2788" y2="1698.6"/><line x1="2571" y1="1722.6" x2="2788" y2="1722.6"/><text class="t" x="2679.5" y="1690">ilRbacReview</text><text x="2579" y="1738.6"><tspan x="2579" dy="0">+ __construct()</tspan><tspan x="2579" dy="14.6">+ roleExists()</tspan><tspan x="2579" dy="14.6">+ getParentRoleIds()</tspan><tspan x="2579" dy="14.6">+ getRoleListByObject()</tspan><tspan x="2579" dy="14.6">+ getAssignableRoles()</tspan><tspan x="2579" dy="14.6">+ getAssignableRolesInSubtree()</tspan><tspan x="2579" dy="14.6">+ getAssignableChildRoles()</tspan><tspan x="2579" dy="14.6">+ getNumberOfAssignedUsers()</tspan><tspan x="2579" dy="14.6">+ assignedUsers()</tspan><tspan x="2579" dy="14.6">+ isAssigned()</tspan><tspan x="2579" dy="14.6">and 43 more...</tspan><tspan x="2579" dy="14.6">+ _getOperationIdsByName()</tspan><tspan x="2579" dy="14.6">+ _getOperationIdByName()</tspan><tspan x="2579" dy="14.6">+ lookupCreateOperationIds()</tspan><tspan x="2579" dy="14.6">+ _getOperationList()</tspan><tspan x="2579" dy="14.6">+ _groupOperationsByClass()</tspan><tspan x="2579" dy="14.6">+ _getCustomRBACOperationId()</tspan><tspan x="2579" dy="14.6">+ _isRBACOperation()</tspan><tspan x="2579" dy="14.6"># __getParentRoles()</tspan><tspan x="2579" dy="14.6"># __setTemplateFilter()</tspan><tspan x="2579" dy="14.6"># __setRoleType()</tspan><tspan x="2579" dy="14.6"># __setProtectedStatus()</tspan><tspan x="2579" dy="14.6">- getAssignableRolesGenerator()</tspan><tspan x="2579" dy="14.6">- setRoleTypeAndProtection()</tspan><tspan x="2579" dy="14.6">- buildRoleType()</tspan><tspan x="2579" dy="14.6">- buildProtectionByStringValue()</tspan></text></g>
<g id="ilObjectDefinition" class="n"><rect x="2897" y="1709" width="217" height="367"/><line x1="2897" y1="1735.6" x2="3114" y2="1735.6"/><line x1="2897" y1="1759.6" x2="3114" y2="1759.6"/><text class="t" x="3005.5" y="1727">ilObjectDefinition</text><text x="2905" y="1775.6"><tspan x="2905" dy="0">+ __construct()</tspan><tspan x="2905" dy="14.6">+ readDefinitionData()</tspan><tspan x="2905" dy="14.6">+ getClassName()</tspan><tspan x="2905" dy="14.6">+ getLocation()</tspan><tspan x="2905" dy="14.6">+ getGroup()</tspan><tspan x="2905" dy="14.6">+ getGroupOfObj()</tspan><tspan x="2905" dy="14.6">+ hasCheckbox()</tspan><tspan x="2905" dy="14.6">+ getTranslationType()</tspan><tspan x="2905" dy="14.6">+ stopInheritance()</tspan><tspan x="2905" dy="14.6">+ getDevMode()</tspan><tspan x="2905" dy="14.6">and 38 more...</tspan><tspan x="2905" dy="14.6">+ getRepositoryObjectTypes</tspan><tspan x="2905" dy="14.6">ForComponent()</tspan><tspan x="2905" dy="14.6">+ getComponentForType()</tspan><tspan x="2905" dy="14.6">+ getGroupedRepositoryObject</tspan><tspan x="2905" dy="14.6">Types()</tspan><tspan x="2905" dy="14.6"># readDefinitionDataFromCache()</tspan><tspan x="2905" dy="14.6"># readDefinitionDataFromDB()</tspan><tspan x="2905" dy="14.6"># readPluginData()</tspan><tspan x="2905" dy="14.6"># parsePluginData()</tspan><tspan x="2905" dy="14.6"># getGroupedPluginObjectTypes()</tspan></text></g>
<g id="ILIAS" class="n"><rect x="3875" y="1775" width="140" height="236"/><line x1="3875" y1="1801.6" x2="4015" y2="1801.6"/><line x1="3875" y1="1884.6" x2="4015" y2="1884.6"/><text class="t" x="3945" y="1793">ILIAS</text><text x="3883" y="1817.6"><tspan x="3883" dy="0">+ $account</tspan><tspan x="3883" dy="14.6">+ $ini</tspan><tspan x="3883" dy="14.6">+ $ini_ilias</tspan><tspan x="3883" dy="14.6">+ $db</tspan><tspan x="3883" dy="14.6">+ $error_obj</tspan></text><text x="3883" y="1900.6"><tspan x="3883" dy="0">+ __construct()</tspan><tspan x="3883" dy="14.6">+ getSetting()</tspan><tspan x="3883" dy="14.6">+ deleteSetting()</tspan><tspan x="3883" dy="14.6">+ getAllSettings()</tspan><tspan x="3883" dy="14.6">+ setSetting()</tspan><tspan x="3883" dy="14.6">+ getClientId()</tspan><tspan x="3883" dy="14.6">+ raiseError()</tspan><tspan x="3883" dy="14.6"># getSettingObject()</tspan></text></g>
<g id="ilLanguage" class="n"><rect x="4112" y="2223" width="178" height="323"/><line x1="4112" y1="2249.6" x2="4290" y2="2249.6"/><line x1="4112" y1="2273.6" x2="4290" y2="2273.6"/><text class="t" x="4201" y="2241">ilLanguage</text><text x="4120" y="2289.6"><tspan x="4120" dy="0">+ __construct()</tspan><tspan x="4120" dy="14.6">+ getLangKey()</tspan><tspan x="4120" dy="14.6">+ getDefaultLanguage()</tspan><tspan x="4120" dy="14.6">+ getTextDirection()</tspan><tspan x="4120" dy="14.6">+ getContentLanguage()</tspan><tspan x="4120" dy="14.6">+ txtlng()</tspan><tspan x="4120" dy="14.6">+ txt()</tspan><tspan x="4120" dy="14.6">+ exists()</tspan><tspan x="4120" dy="14.6">+ loadLanguageModule()</tspan><tspan x="4120" dy="14.6">+ getInstalledLanguages()</tspan><tspan x="4120" dy="14.6">and 7 more...</tspan><tspan x="4120" dy="14.6">+ _getInstalledLanguages()</tspan><tspan x="4120" dy="14.6">+ _lookupEntry()</tspan><tspan x="4120" dy="14.6">+ lookupId()</tspan><tspan x="4120" dy="14.6">+ getFallbackInstance()</tspan><tspan x="4120" dy="14.6">+ getGlobalInstance()</tspan><tspan x="4120" dy="14.6"># logUsage()</tspan><tspan x="4120" dy="14.6"># isUsageLogEnabled()</tspan></text></g>
<g id="ilRbacAdmin" class="n"><rect x="2273" y="2260" width="190" height="250"/><line x1="2273" y1="2286.6" x2="2463" y2="2286.6"/><line x1="2273" y1="2310.6" x2="2463" y2="2310.6"/><text class="t" x="2368" y="2278">ilRbacAdmin</text><text x="2281" y="2326.6"><tspan x="2281" dy="0">+ __construct()</tspan><tspan x="2281" dy="14.6">+ setBlockedStatus()</tspan><tspan x="2281" dy="14.6">+ removeUser()</tspan><tspan x="2281" dy="14.6">+ deleteRole()</tspan><tspan x="2281" dy="14.6">+ deleteTemplate()</tspan><tspan x="2281" dy="14.6">+ deleteLocalRole()</tspan><tspan x="2281" dy="14.6">+ assignUserLimited()</tspan><tspan x="2281" dy="14.6">+ assignUser()</tspan><tspan x="2281" dy="14.6">+ deassignUser()</tspan><tspan x="2281" dy="14.6">+ grantPermission()</tspan><tspan x="2281" dy="14.6">and 18 more...</tspan><tspan x="2281" dy="14.6"># applyMovedObjectDidactic</tspan><tspan x="2281" dy="14.6">Templates()</tspan></text></g>
<g id="ilObject" class="n"><rect x="2471" y="2612" width="227" height="615"/><line x1="2471" y1="2638.6" x2="2698" y2="2638.6"/><line x1="2471" y1="2662.6" x2="2698" y2="2662.6"/><text class="t" x="2584.5" y="2630">ilObject</text><text x="2479" y="2678.6"><tspan x="2479" dy="0">+ __construct()</tspan><tspan x="2479" dy="14.6">+ withReferences()</tspan><tspan x="2479" dy="14.6">+ processAutoRating()</tspan><tspan x="2479" dy="14.6">+ read()</tspan><tspan x="2479" dy="14.6">+ getId()</tspan><tspan x="2479" dy="14.6">+ setId()</tspan><tspan x="2479" dy="14.6">+ setRefId()</tspan><tspan x="2479" dy="14.6">+ getRefId()</tspan><tspan x="2479" dy="14.6">+ getType()</tspan><tspan x="2479" dy="14.6">+ setType()</tspan><tspan x="2479" dy="14.6">and 39 more...</tspan><tspan x="2479" dy="14.6">+ _lookupObjIdByImportId()</tspan><tspan x="2479" dy="14.6">+ _lookupImportId()</tspan><tspan x="2479" dy="14.6">+ _lookupOwnerName()</tspan><tspan x="2479" dy="14.6">+ _getIdForImportId()</tspan><tspan x="2479" dy="14.6">+ _getAllReferences()</tspan><tspan x="2479" dy="14.6">+ _lookupTitle()</tspan><tspan x="2479" dy="14.6">+ lookupOfflineStatus()</tspan><tspan x="2479" dy="14.6">+ _lookupOwner()</tspan><tspan x="2479" dy="14.6">+ _getIdsForTitle()</tspan><tspan x="2479" dy="14.6">+ _lookupDescription()</tspan><tspan x="2479" dy="14.6">and 26 more...</tspan><tspan x="2479" dy="14.6"># doMDUpdateListener()</tspan><tspan x="2479" dy="14.6"># beforeMDUpdateListener()</tspan><tspan x="2479" dy="14.6"># doCreateMetaData()</tspan><tspan x="2479" dy="14.6"># beforeCreateMetaData()</tspan><tspan x="2479" dy="14.6"># doUpdateMetaData()</tspan><tspan x="2479" dy="14.6"># beforeUpdateMetaData()</tspan><tspan x="2479" dy="14.6"># doDeleteMetaData()</tspan><tspan x="2479" dy="14.6"># beforeDeleteMetaData()</tspan><tspan x="2479" dy="14.6"># handleAutoRating()</tspan><tspan x="2479" dy="14.6"># hasAutoRating()</tspan><tspan x="2479" dy="14.6">- appendCopyInfoToTranslations()</tspan><tspan x="2479" dy="14.6">- getCallbackForTitlesPerLanguage</tspan><tspan x="2479" dy="14.6">Transformation()</tspan><tspan x="2479" dy="14.6">- appendNumberOfCopiesToTitle()</tspan><tspan x="2479" dy="14.6">- isTitleUnique()</tspan><tspan x="2479" dy="14.6">- buildTitleWithoutCopySuffix()</tspan></text></g>
<g id="ilObjUser" class="n"><rect x="2485" y="3294" width="198" height="748"/><line x1="2485" y1="3320.6" x2="2683" y2="3320.6"/><line x1="2485" y1="3637.2" x2="2683" y2="3637.2"/><text class="t" x="2584" y="3312">ilObjUser</text><text x="2493" y="3336.6"><tspan x="2493" dy="0">+ $login</tspan><tspan x="2493" dy="14.6">+ $gender</tspan><tspan x="2493" dy="14.6">+ $utitle</tspan><tspan x="2493" dy="14.6">+ $firstname</tspan><tspan x="2493" dy="14.6">+ $lastname</tspan><tspan x="2493" dy="14.6">+ $fullname</tspan><tspan x="2493" dy="14.6">+ $department</tspan><tspan x="2493" dy="14.6">+ $street</tspan><tspan x="2493" dy="14.6">+ $city</tspan><tspan x="2493" dy="14.6">+ $country</tspan><tspan x="2493" dy="14.6">and 12 more...</tspan><tspan x="2493" dy="14.6"># $time_limit_message</tspan><tspan x="2493" dy="14.6"># $last_login</tspan><tspan x="2493" dy="14.6"># $passwd</tspan><tspan x="2493" dy="14.6"># $password_encoding_type</tspan><tspan x="2493" dy="14.6"># $password_salt</tspan><tspan x="2493" dy="14.6"># $birthday</tspan><tspan x="2493" dy="14.6"># $second_email</tspan><tspan x="2493" dy="14.6"># $inactivation_date</tspan><tspan x="2493" dy="14.6"># $org_units</tspan><tspan x="2493" dy="14.6"># $last_profile_prompt</tspan></text><text x="2493" y="3653.2"><tspan x="2493" dy="0">+ __construct()</tspan><tspan x="2493" dy="14.6">+ read()</tspan><tspan x="2493" dy="14.6">+ getPasswordEncodingType()</tspan><tspan x="2493" dy="14.6">+ setPasswordEncodingType()</tspan><tspan x="2493" dy="14.6">+ getPasswordSalt()</tspan><tspan x="2493" dy="14.6">+ setPasswordSalt()</tspan><tspan x="2493" dy="14.6">+ assignData()</tspan><tspan x="2493" dy="14.6">+ saveAsNew()</tspan><tspan x="2493" dy="14.6">+ update()</tspan><tspan x="2493" dy="14.6">+ writeAccepted()</tspan><tspan x="2493" dy="14.6">and 185 more...</tspan><tspan x="2493" dy="14.6">+ _lookupFullname()</tspan><tspan x="2493" dy="14.6">+ _lookupEmail()</tspan><tspan x="2493" dy="14.6">+ _lookupGender()</tspan><tspan x="2493" dy="14.6">+ _lookupClientIP()</tspan><tspan x="2493" dy="14.6">+ _lookupName()</tspan><tspan x="2493" dy="14.6">+ _lookupFields()</tspan><tspan x="2493" dy="14.6">+ _lookupLogin()</tspan><tspan x="2493" dy="14.6">+ _lookupExternalAccount()</tspan><tspan x="2493" dy="14.6">+ _lookupId()</tspan><tspan x="2493" dy="14.6">+ _lookupLastLogin()</tspan><tspan x="2493" dy="14.6">and 60 more...</tspan><tspan x="2493" dy="14.6"># buildFeatureFromArray()</tspan><tspan x="2493" dy="14.6"># readMultiTextFields()</tspan><tspan x="2493" dy="14.6"># deleteMultiTextFields()</tspan><tspan x="2493" dy="14.6">- _lookup()</tspan><tspan x="2493" dy="14.6">- getLoginFromAuth()</tspan></text></g>
<g id="ilCachedLanguage" class="n"><rect x="4587" y="1761" width="140" height="265"/><line x1="4587" y1="1787.6" x2="4727" y2="1787.6"/><line x1="4587" y1="1811.6" x2="4727" y2="1811.6"/><text class="t" x="4657" y="1779">ilCachedLanguage</text><text x="4595" y="1827.6"><tspan x="4595" dy="0">+ isActive()</tspan><tspan x="4595" dy="14.6">+ writeToCache()</tspan><tspan x="4595" dy="14.6">+ deleteInCache()</tspan><tspan x="4595" dy="14.6">+ flush()</tspan><tspan x="4595" dy="14.6">+ setLanguageKey()</tspan><tspan x="4595" dy="14.6">+ getLanguageKey()</tspan><tspan x="4595" dy="14.6">+ setLoaded()</tspan><tspan x="4595" dy="14.6">+ getLoaded()</tspan><tspan x="4595" dy="14.6">+ setTranslations()</tspan><tspan x="4595" dy="14.6">+ getTranslations()</tspan><tspan x="4595" dy="14.6">+ getInstance()</tspan><tspan x="4595" dy="14.6"># __construct()</tspan><tspan x="4595" dy="14.6"># readFromCache()</tspan><tspan x="4595" dy="14.6"># readFromDB()</tspan></text></g>
<g id="FileStreamReadAccess" class="n"><rect x="5437" y="2339" width="175" height="90"/><line x1="5437" y1="2380.2" x2="5612" y2="2380.2"/><line x1="5437" y1="2404.2" x2="5612" y2="2404.2"/><text class="t" x="5524.5" y="2357"><tspan x="5524.5" dy="0">ILIAS\Filesystem\Provider</tspan><tspan x="5524.5" dy="14.6">\FileStreamReadAccess</tspan></text><text x="5445" y="2420.2">+ readStream()</text></g>
<g id="FileStreamWriteAccess" class="n"><rect x="5636" y="2325" width="175" height="119"/><line x1="5636" y1="2366.2" x2="5811" y2="2366.2"/><line x1="5636" y1="2390.2" x2="5811" y2="2390.2"/><text class="t" x="5723.5" y="2343"><tspan x="5723.5" dy="0">ILIAS\Filesystem\Provider</tspan><tspan x="5723.5" dy="14.6">\FileStreamWriteAccess</tspan></text><text x="5644" y="2406.2"><tspan x="5644" dy="0">+ writeStream()</tspan><tspan x="5644" dy="14.6">+ putStream()</tspan><tspan x="5644" dy="14.6">+ updateStream()</tspan></text></g>
<g id="FileReadAccess" class="n"><rect x="5834" y="2295" width="175" height="178"/><line x1="5834" y1="2336.2" x2="6009" y2="2336.2"/><line x1="5834" y1="2360.2" x2="6009" y2="2360.2"/><text class="t" x="5921.5" y="2313"><tspan x="5921.5" dy="0">ILIAS\Filesystem\Provider</tspan><tspan x="5921.5" dy="14.6">\FileReadAccess</tspan></text><text x="5842" y="2376.2"><tspan x="5842" dy="0">+ read()</tspan><tspan x="5842" dy="14.6">+ has()</tspan><tspan x="5842" dy="14.6">+ getMimeType()</tspan><tspan x="5842" dy="14.6">+ getTimestamp()</tspan><tspan x="5842" dy="14.6">+ getSize()</tspan><tspan x="5842" dy="14.6">+ setVisibility()</tspan><tspan x="5842" dy="14.6">+ getVisibility()</tspan></text></g>
<g id="FileWriteAccess" class="n"><rect x="6033" y="2295" width="175" height="178"/><line x1="6033" y1="2336.2" x2="6208" y2="2336.2"/><line x1="6033" y1="2360.2" x2="6208" y2="2360.2"/><text class="t" x="6120.5" y="2313"><tspan x="6120.5" dy="0">ILIAS\Filesystem\Provider</tspan><tspan x="6120.5" dy="14.6">\FileWriteAccess</tspan></text><text x="6041" y="2376.2"><tspan x="6041" dy="0">+ write()</tspan><tspan x="6041" dy="14.6">+ update()</tspan><tspan x="6041" dy="14.6">+ put()</tspan><tspan x="6041" dy="14.6">+ delete()</tspan><tspan x="6041" dy="14.6">+ readAndDelete()</tspan><tspan x="6041" dy="14.6">+ rename()</tspan><tspan x="6041" dy="14.6">+ copy()</tspan></text></g>
<g id="DirectoryReadAccess" class="n"><rect x="6232" y="2330" width="175" height="104"/><line x1="6232" y1="2371.2" x2="6407" y2="2371.2"/><line x1="6232" y1="2395.2" x2="6407" y2="2395.2"/><text class="t" x="6319.5" y="2348"><tspan x="6319.5" dy="0">ILIAS\Filesystem\Provider</tspan><tspan x="6319.5" dy="14.6">\DirectoryReadAccess</tspan></text><text x="6240" y="2411.2"><tspan x="6240" dy="0">+ hasDir()</tspan><tspan x="6240" dy="14.6">+ listContents()</tspan></text></g>
<g id="DirectoryWriteAccess" class="n"><rect x="6432" y="2325" width="175" height="119"/><line x1="6432" y1="2366.2" x2="6607" y2="2366.2"/><line x1="6432" y1="2390.2" x2="6607" y2="2390.2"/><text class="t" x="6519.5" y="2343"><tspan x="6519.5" dy="0">ILIAS\Filesystem\Provider</tspan><tspan x="6519.5" dy="14.6">\DirectoryWriteAccess</tspan></text><text x="6440" y="2406.2"><tspan x="6440" dy="0">+ createDir()</tspan><tspan x="6440" dy="14.6">+ copyDir()</tspan><tspan x="6440" dy="14.6">+ deleteDir()</tspan></text></g>
<g id="FileStreamAccess" class="n"><rect x="5636" y="2877" width="175" height="89"/><line x1="5636" y1="2918.2" x2="5811" y2="2918.2"/><line x1="5636" y1="2942.2" x2="5811" y2="2942.2"/><text class="t" x="5723.5" y="2895"><tspan x="5723.5" dy="0">ILIAS\Filesystem\Provider</tspan><tspan x="5723.5" dy="14.6">\FileStreamAccess</tspan></text></g>
<g id="FileAccess" class="n"><rect x="5834" y="2877" width="175" height="89"/><line x1="5834" y1="2918.2" x2="6009" y2="2918.2"/><line x1="5834" y1="2942.2" x2="6009" y2="2942.2"/><text class="t" x="5921.5" y="2895"><tspan x="5921.5" dy="0">ILIAS\Filesystem\Provider</tspan><tspan x="5921.5" dy="14.6">\FileAccess</tspan></text></g>
<g id="DirectoryAccess" class="n"><rect x="6232" y="2877" width="175" height="89"/><line x1="6232" y1="2918.2" x2="6407" y2="2918.2"/><line x1="6232" y1="2942.2" x2="6407" y2="2942.2"/><text class="t" x="6319.5" y="2895"><tspan x="6319.5" dy="0">ILIAS\Filesystem\Provider</tspan><tspan x="6319.5" dy="14.6">\DirectoryAccess</tspan></text></g>
<g id="Filesystem" class="n"><rect x="5683" y="3631" width="193" height="75"/><line x1="5683" y1="3657.6" x2="5876" y2="3657.6"/><line x1="5683" y1="3681.6" x2="5876" y2="3681.6"/><text class="t" x="5779.5" y="3649">ILIAS\Filesystem\Filesystem</text><text x="5691" y="3697.6">+ finder()</text></g>
</svg>
